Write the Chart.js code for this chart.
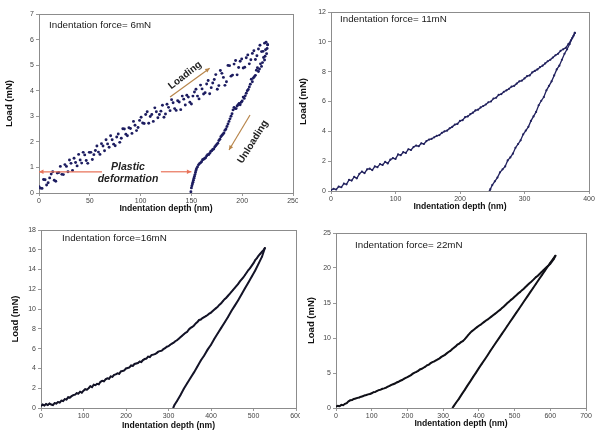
<!DOCTYPE html>
<html><head><meta charset="utf-8">
<script src="https://cdn.jsdelivr.net/npm/chart.js@4.4.1/dist/chart.umd.min.js"></script>
<style>
html,body{margin:0;padding:0;background:#fff;width:597px;height:441px;overflow:hidden;position:relative;}
canvas{position:absolute;}
</style></head><body>
<canvas id="c1" style="left:0;top:0" width="298" height="220"></canvas>
<canvas id="c2" style="left:298px;top:0" width="299" height="220"></canvas>
<canvas id="c3" style="left:0;top:220px" width="300" height="221"></canvas>
<canvas id="c4" style="left:298px;top:220px" width="299" height="221"></canvas>
<script>
// ---- data (x = indentation depth nm, y = load mN) ----
const panelTitles = ["Indentation force= 6mN", "Indentation force= 11mN", "Indentation force=16mN", "Indentation force= 22mN"];
const xAxisTitle = "Indentation depth (nm)";
const yAxisTitle = "Load (mN)";
const xMaxes = [250, 400, 600, 700];
const xSteps = [50, 100, 100, 100];
const yMaxes = [7, 12, 18, 25];
const ySteps = [1, 2, 2, 5];

const p1Loading = [[0,0.25],[1.5,0.19],[3,0.18],[4.5,0.53],[6,0.52],[7.5,0.31],[9,0.40],[10.5,0.59],[12,0.74],[13.5,0.83],[15,0.50],[16.5,0.46],[18,0.78],[19.5,0.80],[21,1.04],[22.5,0.73],[24,0.72],[25.5,1.11],[27,1.04],[28.5,0.83],[30,1.29],[31.5,1.16],[33,0.88],[34.5,1.36],[36,1.19],[37.5,1.06],[39,1.51],[40.5,1.29],[42,1.17],[43.5,1.59],[45,1.49],[46.5,1.27],[48,1.16],[49.5,1.59],[51,1.59],[52.5,1.31],[54,1.50],[55.5,1.66],[57,1.84],[58.5,1.60],[60,1.51],[61.5,1.93],[63,1.84],[64.5,1.65],[66,2.08],[67.5,1.92],[69,1.79],[70.5,2.24],[72,2.08],[73.5,1.91],[75,1.85],[76.5,2.19],[78,2.31],[79.5,1.98],[81,2.14],[82.5,2.51],[84,2.50],[85.5,2.30],[87,2.24],[88.5,2.55],[90,2.52],[91.5,2.33],[93,2.80],[94.5,2.65],[96,2.44],[97.5,2.56],[99,2.84],[100.5,2.96],[102,2.74],[103.5,2.72],[105,3.07],[106.5,3.18],[108,2.73],[109.5,2.99],[111,3.07],[112.5,2.80],[114,3.33],[115.5,3.18],[117,2.94],[118.5,3.07],[120,3.20],[121.5,3.43],[123,2.96],[124.5,3.09],[126,3.47],[127.5,3.35],[129,3.22],[130.5,3.65],[132,3.53],[133.5,3.30],[135,3.23],[136.5,3.61],[138,3.56],[139.5,3.26],[141,3.79],[142.5,3.67],[144,3.44],[145.5,3.82],[147,3.75],[148.5,3.55],[150,3.48],[151.5,3.79],[153,3.95],[154.5,4.06],[156,3.79],[157.5,3.68],[159,4.22],[160.5,4.07],[162,3.87],[163.5,3.92],[165,4.26],[166.5,4.40],[168,3.88],[169.5,4.12],[171,4.30],[172.5,4.44],[174,4.63],[175.5,4.06],[177,4.20],[178.5,4.79],[180,4.68],[181.5,4.52],[183,4.21],[184.5,4.35],[186,4.99],[187.5,4.98],[189,4.57],[190.5,4.61],[192,5.04],[193.5,5.18],[195,4.62],[196.5,4.91],[198,5.15],[199.5,5.24],[201,4.89],[202.5,4.92],[204,5.29],[205.5,5.40],[207,5.05],[208.5,5.21],[210,5.46],[211.5,5.56],[213,5.22],[214.5,5.37],[216,5.63],[217.5,5.78],[219,5.53],[220.5,5.54],[222,5.86],[223.5,5.90],[225,5.80]];
const p1Unloading = [[225,5.8],[224.5,5.65],[224,5.45],[223,5.6],[222.5,5.35],[222,5.2],[221,5.3],[220,5.1],[219,4.95],[218,5.05],[217,4.85],[216,4.75],[215,4.9],[214,4.8],[213,4.6],[212,4.55],[211,4.5],[210,4.35],[209,4.45],[208,4.25],[207,4.15],[206,4.05],[205,4.0],[204,3.9],[203,3.8],[202,3.7],[201,3.75],[200,3.6],[199,3.55],[198,3.45],[197,3.5],[196,3.45],[195,3.4],[194,3.3],[193,3.3],[192,3.35],[191,3.25],[190,3.1],[189,3.0],[188,2.9],[187,2.8],[186,2.7],[185,2.6],[184,2.5],[183,2.45],[182,2.35],[181,2.3],[180,2.25],[179,2.2],[178,2.1],[177,2.05],[176,1.95],[175,1.9],[174,1.85],[173,1.8],[172,1.72],[171,1.7],[170,1.65],[169,1.62],[168,1.55],[167,1.5],[166,1.5],[165,1.45],[164,1.38],[163,1.35],[162,1.32],[161,1.3],[160,1.22],[159,1.18],[158,1.15],[157,1.1],[156,1.02],[155,0.95],[154.5,0.88],[154,0.8],[153.5,0.72],[153,0.65],[152.5,0.58],[152,0.5],[151.5,0.42],[151,0.35],[150.5,0.28],[150,0.2],[149.5,0.05]];

const p2Loading = [[0,0.05],[4,0.15],[8,0.1],[12,0.3],[16,0.25],[20,0.5],[24,0.45],[28,0.75],[32,0.7],[36,0.95],[40,0.85],[44,1.15],[48,1.3],[52,1.2],[56,1.45],[60,1.5],[64,1.4],[68,1.65],[72,1.6],[76,1.8],[80,1.75],[84,1.95],[88,1.85],[92,2.1],[96,2.2],[100,2.15],[104,2.45],[108,2.4],[112,2.6],[116,2.55],[120,2.8],[124,2.75],[128,2.95],[132,3.05],[136,3.0],[140,3.2],[144,3.15],[148,3.35],[152,3.45],[156,3.5],[160,3.6],[164,3.7],[168,3.75],[172,3.9],[176,4.0],[180,4.05],[184,4.2],[188,4.3],[192,4.45],[196,4.5],[200,4.7],[204,4.75],[208,4.95],[212,5.0],[216,5.15],[220,5.25],[224,5.4],[228,5.45],[232,5.6],[236,5.7],[240,5.8],[244,5.95],[248,6.0],[252,6.2],[256,6.25],[260,6.45],[264,6.5],[268,6.65],[272,6.75],[276,6.85],[280,7.0],[284,7.05],[288,7.2],[292,7.35],[296,7.4],[300,7.55],[304,7.7],[308,7.75],[312,7.95],[316,8.05],[320,8.15],[324,8.3],[328,8.4],[332,8.55],[336,8.7],[340,8.8],[344,8.95],[348,9.1],[352,9.2],[356,9.4],[360,9.5],[364,9.6],[368,9.85],[372,10.1],[376,10.4],[378,10.6]];
const p2Unloading = [[378,10.6],[374,10.25],[370,9.85],[366,9.5],[362,9.2],[358,8.8],[354,8.4],[350,8.15],[346,7.75],[342,7.35],[338,7.05],[334,6.75],[330,6.3],[326,6.05],[322,5.75],[318,5.3],[314,5.0],[310,4.7],[306,4.3],[302,4.05],[298,3.8],[294,3.4],[290,3.15],[286,2.9],[282,2.5],[278,2.25],[274,2.05],[270,1.65],[266,1.45],[262,1.25],[258,0.9],[254,0.65],[250,0.4],[247,0.12],[246,0.0]];

const p3Loading = [[0,0.2],[4,0.35],[8,0.25],[12,0.4],[16,0.3],[20,0.45],[24,0.35],[28,0.3],[32,0.5],[36,0.45],[40,0.6],[44,0.55],[48,0.75],[52,0.7],[56,0.9],[60,0.85],[64,1.1],[68,1.05],[72,1.2],[76,1.3],[80,1.35],[84,1.5],[88,1.45],[92,1.65],[96,1.55],[100,1.75],[104,1.9],[108,1.85],[112,2.0],[116,2.2],[120,2.1],[124,2.35],[128,2.3],[132,2.45],[136,2.4],[140,2.65],[144,2.75],[148,2.7],[152,2.9],[156,3.0],[160,2.95],[164,3.2],[168,3.15],[172,3.35],[176,3.4],[180,3.5],[184,3.45],[188,3.7],[192,3.75],[196,3.8],[200,4.0],[204,4.05],[208,4.1],[212,4.3],[216,4.25],[220,4.45],[224,4.5],[228,4.55],[232,4.7],[236,4.65],[240,4.85],[244,4.95],[248,5.0],[252,5.2],[256,5.15],[260,5.35],[264,5.4],[268,5.45],[272,5.55],[276,5.7],[280,5.75],[284,5.8],[288,5.95],[292,6.05],[296,6.2],[300,6.25],[304,6.4],[308,6.5],[312,6.6],[316,6.75],[320,6.85],[324,7.0],[328,7.15],[332,7.3],[336,7.45],[340,7.6],[344,7.7],[348,7.95],[352,8.1],[356,8.2],[360,8.35],[364,8.55],[368,8.7],[372,8.9],[376,8.95],[380,9.1],[384,9.2],[388,9.3],[392,9.4],[396,9.55],[400,9.65],[404,9.8],[408,9.95],[412,10.1],[416,10.25],[420,10.45],[424,10.6],[428,10.8],[432,11.0],[436,11.15],[440,11.35],[444,11.55],[448,11.75],[452,11.95],[456,12.15],[460,12.35],[464,12.55],[468,12.8],[472,13.0],[476,13.2],[480,13.45],[484,13.7],[488,13.95],[492,14.15],[496,14.4],[500,14.65],[504,14.95],[508,15.15],[512,15.4],[516,15.6],[520,15.8],[524,16.0],[527,16.2]];
const p3Unloading = [[527,16.2],[520,15.3],[512,14.6],[504,13.9],[496,13.3],[488,12.7],[480,12.1],[472,11.5],[464,10.9],[456,10.35],[448,9.8],[440,9.2],[432,8.65],[424,8.1],[416,7.55],[408,7.0],[400,6.4],[392,5.9],[384,5.3],[376,4.8],[368,4.2],[360,3.6],[352,3.05],[344,2.5],[336,1.95],[328,1.3],[320,0.7],[314,0.3],[311,0.0]];

const p4Loading = [[0,0.2],[5,0.3],[10,0.25],[15,0.45],[20,0.4],[25,0.6],[30,0.7],[35,0.95],[40,1.1],[45,1.15],[50,1.3],[55,1.35],[60,1.45],[65,1.5],[70,1.62],[75,1.68],[80,1.8],[85,1.85],[90,1.95],[95,2.0],[100,2.1],[105,2.25],[110,2.3],[115,2.45],[120,2.55],[125,2.62],[130,2.75],[135,2.8],[140,2.9],[145,3.05],[150,3.15],[155,3.3],[160,3.4],[165,3.5],[170,3.65],[175,3.75],[180,3.9],[185,4.0],[190,4.15],[195,4.3],[200,4.4],[205,4.55],[210,4.7],[215,4.9],[220,5.05],[225,5.15],[230,5.3],[235,5.5],[240,5.6],[245,5.75],[250,5.9],[255,6.1],[260,6.2],[265,6.4],[270,6.55],[275,6.65],[280,6.8],[285,6.95],[290,7.1],[295,7.3],[300,7.45],[305,7.6],[310,7.8],[315,8.0],[320,8.15],[325,8.4],[330,8.6],[335,8.8],[340,9.05],[345,9.2],[350,9.4],[355,9.55],[360,9.8],[365,10.1],[370,10.4],[375,10.7],[380,10.95],[385,11.15],[390,11.35],[395,11.55],[400,11.75],[405,11.9],[410,12.1],[415,12.3],[420,12.5],[425,12.65],[430,12.85],[435,13.05],[440,13.25],[445,13.45],[450,13.65],[455,13.85],[460,14.05],[465,14.3],[470,14.5],[475,14.75],[480,15.0],[485,15.2],[490,15.45],[495,15.65],[500,15.9],[505,16.1],[510,16.35],[515,16.55],[520,16.8],[525,17.0],[530,17.25],[535,17.5],[540,17.75],[545,17.95],[550,18.2],[555,18.45],[560,18.7],[565,18.9],[570,19.15],[575,19.4],[580,19.65],[585,19.9],[590,20.15],[595,20.35],[600,20.6],[605,20.95],[610,21.3],[615,21.8]];
const p4Unloading = [[615,21.8],[608,21.3],[600,20.75],[592,20.15],[584,19.55],[576,18.95],[568,18.35],[560,17.75],[552,17.15],[544,16.55],[536,15.95],[528,15.35],[520,14.75],[512,14.15],[504,13.55],[496,12.95],[488,12.35],[480,11.75],[472,11.15],[464,10.55],[456,9.95],[448,9.35],[440,8.75],[432,8.15],[424,7.5],[416,6.9],[408,6.3],[400,5.7],[392,5.05],[384,4.45],[376,3.8],[368,3.2],[360,2.55],[352,1.95],[344,1.3],[336,0.75],[330,0.3],[326,0.0]];

// annotations of panel 1 (data coordinates)
const p1PlasticArrowY = 0.83;
const p1PlasticSegments = [[62, 0], [120, 150]]; // [from, to], head at "to"
const p1LoadingArrow = [[129, 3.75], [168, 4.88]];
const p1UnloadingArrow = [[207.7, 3.05], [187, 1.68]];
const p1Labels = [
  {text: "Plastic", x: 87.6, y: 1.02, rot: 0},
  {text: "deformation", x: 87.6, y: 0.54, rot: 0},
  {text: "Loading", x: 143.7, y: 4.6, rot: -38},
  {text: "Unloading", x: 210.6, y: 2.0, rot: -58}
];

// ---- helpers ----
const FONT = 'Arial, "Liberation Sans", sans-serif';
const toXY = arr => arr.map(p => ({x: p[0], y: p[1]}));

function arrow(ctx, x1, y1, x2, y2, color, head) {
  ctx.save();
  ctx.strokeStyle = color; ctx.fillStyle = color; ctx.lineWidth = 1.2;
  ctx.beginPath(); ctx.moveTo(x1, y1); ctx.lineTo(x2, y2); ctx.stroke();
  const a = Math.atan2(y2 - y1, x2 - x1);
  ctx.beginPath();
  ctx.moveTo(x2, y2);
  ctx.lineTo(x2 - head * Math.cos(a - 0.45), y2 - head * Math.sin(a - 0.45));
  ctx.lineTo(x2 - head * Math.cos(a + 0.45), y2 - head * Math.sin(a + 0.45));
  ctx.closePath(); ctx.fill();
  ctx.restore();
}

const framePlugin = {
  id: 'frame',
  beforeDatasetsDraw(chart) {
    const a = chart.chartArea, ctx = chart.ctx;
    ctx.save();
    ctx.strokeStyle = '#8c8c8c'; ctx.lineWidth = 1;
    ctx.strokeRect(Math.round(a.left) + 0.5, Math.round(a.top) + 0.5, Math.round(a.right - a.left), Math.round(a.bottom - a.top));
    ctx.restore();
  },
  afterDraw(chart, args, opts) {
    const a = chart.chartArea, ctx = chart.ctx;
    ctx.save();
    ctx.fillStyle = '#1a1a1a';
    ctx.font = '9.8px ' + FONT;
    ctx.textBaseline = 'middle'; ctx.textAlign = 'left';
    ctx.fillText(opts.label, a.left + opts.dx, a.top + opts.dy);
    ctx.restore();
    if (opts.panel1) {
      const xs = chart.scales.x, ys = chart.scales.y;
      const X = v => xs.getPixelForValue(v), Y = v => ys.getPixelForValue(v);
      p1PlasticSegments.forEach(s => arrow(ctx, X(s[0]), Y(p1PlasticArrowY), X(s[1]), Y(p1PlasticArrowY), '#e8735a', 5));
      arrow(ctx, X(p1LoadingArrow[0][0]), Y(p1LoadingArrow[0][1]), X(p1LoadingArrow[1][0]), Y(p1LoadingArrow[1][1]), '#b8864b', 5);
      arrow(ctx, X(p1UnloadingArrow[0][0]), Y(p1UnloadingArrow[0][1]), X(p1UnloadingArrow[1][0]), Y(p1UnloadingArrow[1][1]), '#b8864b', 5);
      p1Labels.forEach((l, i) => {
        ctx.save();
        ctx.translate(X(l.x), Y(l.y));
        ctx.rotate(l.rot * Math.PI / 180);
        ctx.font = (i < 2 ? 'italic bold 10.5px ' : 'bold 10px ') + FONT;
        ctx.fillStyle = '#222';
        ctx.textAlign = 'center'; ctx.textBaseline = 'middle';
        ctx.fillText(l.text, 0, 0);
        ctx.restore();
      });
    }
  }
};

function makeChart(id, c) {
  const datasets = [c.loading, c.unloading].map(d => ({
    data: toXY(d),
    showLine: c.line,
    borderColor: c.color,
    borderWidth: c.lw,
    backgroundColor: c.color,
    pointRadius: c.pr,
    pointBorderWidth: 0,
    pointBackgroundColor: c.color,
    tension: 0
  }));
  return new Chart(document.getElementById(id), {
    type: 'scatter',
    data: {datasets},
    options: {
      responsive: false, animation: false, devicePixelRatio: 1,
      layout: {padding: {top: c.padTop, right: c.padRight, left: 0, bottom: 0}},
      plugins: {legend: {display: false}, tooltip: {enabled: false},
        frame: {label: c.label, dx: c.labelDx, dy: c.labelDy, panel1: !!c.panel1}},
      scales: {
        x: {
          type: 'linear', min: 0, max: c.xMax,
          ticks: {stepSize: c.xStep, autoSkip: false, maxRotation: 0, color: '#444', padding: 1, font: {family: FONT, size: 7}},
          grid: {drawOnChartArea: false, drawTicks: true, tickLength: 3, color: '#999'},
          border: {display: false},
          title: {display: true, text: xAxisTitle, color: '#111', font: {family: FONT, size: 8.6, weight: 'bold'}, padding: {top: 0, bottom: c.xTitlePad}},
          afterFit(s) { s.height = c.xAxisH; s.paddingLeft = 0; s.paddingRight = 0; }
        },
        y: {
          type: 'linear', min: 0, max: c.yMax,
          ticks: {stepSize: c.yStep, autoSkip: false, color: '#444', padding: 2, font: {family: FONT, size: 7}},
          grid: {drawOnChartArea: false, drawTicks: true, tickLength: 3, color: '#999'},
          border: {display: false},
          title: {display: true, text: yAxisTitle, color: '#111', font: {family: FONT, size: 9.5, weight: 'bold'}, padding: {top: c.yTitlePad, bottom: 0}},
          afterFit(s) { s.width = c.yAxisW; s.paddingTop = 0; s.paddingBottom = 0; }
        }
      }
    },
    plugins: [framePlugin]
  });
}

makeChart('c1', {loading: p1Loading, unloading: p1Unloading, line: false, color: '#1c1c60', lw: 0, pr: 1.45,
  xMax: xMaxes[0], xStep: xSteps[0], yMax: yMaxes[0], yStep: ySteps[0],
  padTop: 14, padRight: 5, xAxisH: 27, yAxisW: 39, xTitlePad: 6, yTitlePad: 4,
  label: panelTitles[0], labelDx: 10, labelDy: 11, panel1: true});
makeChart('c2', {loading: p2Loading, unloading: p2Unloading, line: true, color: '#22225e', lw: 1.3, pr: 1.1,
  xMax: xMaxes[1], xStep: xSteps[1], yMax: yMaxes[1], yStep: ySteps[1],
  padTop: 12, padRight: 8, xAxisH: 29, yAxisW: 33, xTitlePad: 8, yTitlePad: 0,
  label: panelTitles[1], labelDx: 9, labelDy: 7});
makeChart('c3', {loading: p3Loading, unloading: p3Unloading, line: true, color: '#141428', lw: 2, pr: 0.7,
  xMax: xMaxes[2], xStep: xSteps[2], yMax: yMaxes[2], yStep: ySteps[2],
  padTop: 10, padRight: 3, xAxisH: 33, yAxisW: 41, xTitlePad: 10, yTitlePad: 10,
  label: panelTitles[2], labelDx: 21, labelDy: 8});
makeChart('c4', {loading: p4Loading, unloading: p4Unloading, line: true, color: '#111118', lw: 2, pr: 0.7,
  xMax: xMaxes[3], xStep: xSteps[3], yMax: yMaxes[3], yStep: ySteps[3],
  padTop: 13, padRight: 11, xAxisH: 33, yAxisW: 38, xTitlePad: 12, yTitlePad: 8,
  label: panelTitles[3], labelDx: 19, labelDy: 12});
</script>
</body></html>
